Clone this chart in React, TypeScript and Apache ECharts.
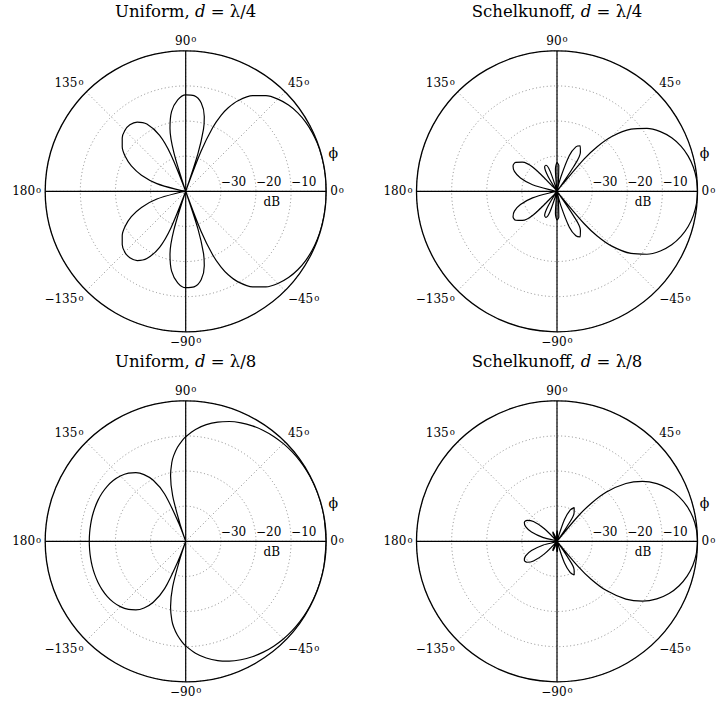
import React, { useEffect, useRef } from 'react';
import * as echarts from 'echarts';

// Gains in dB (upper half, 0..180 deg); the patterns are symmetric in phi -> -phi.
const uniformQuarterAngles = [0, 5, 10, 15, 20, 25, 30, 35, 40, 45, 50, 55, 60, 63, 65, 67, 69, 70.5, 72, 74, 76, 80, 85, 90, 95, 100, 104, 107, 109.5, 112, 115, 120, 125, 130, 135, 140, 145, 150, 155, 160, 165, 170, 175, 180];
const uniformQuarterDb = [0, 0, 0, -0.04, -0.11, -0.28, -0.57, -1.05, -1.79, -2.88, -4.47, -6.77, -10.23, -13.32, -16.17, -20.29, -27.82, -40, -28.66, -21.61, -18.12, -14.49, -12.67, -12.55, -13.86, -16.9, -21.5, -28.49, -40, -28.75, -22.42, -17.89, -15.93, -15.27, -15.49, -16.41, -17.94, -20.1, -22.92, -26.6, -31.5, -38.48, -40, -40];

const schelQuarterAngles = [0, 5, 10, 15, 20, 25, 30, 35, 40, 45, 48, 50, 52, 53.13, 56, 59, 63, 67, 71, 75, 78.46, 82, 86, 90, 94, 98, 101.54, 105, 109, 113, 117, 121, 124, 126.87, 130, 135, 140, 145, 150, 155, 160, 165, 170, 175, 180];
const schelQuarterDb = [0, -0.14, -0.58, -1.34, -2.45, -3.97, -6.02, -8.75, -12.48, -17.93, -22.9, -27.94, -37.62, -40, -31.49, -27.06, -25.45, -26.25, -29.2, -35.86, -40, -37.31, -32.67, -31.86, -33.63, -39.23, -40, -39.5, -33.85, -31.95, -32.25, -35.01, -40, -40, -38.75, -30.54, -27.09, -25.64, -25.55, -26.62, -28.93, -32.79, -39.04, -40, -40];

const uniformEighthAngles = [0, 10, 15, 20, 25, 30, 35, 40, 45, 50, 55, 60, 65, 70, 75, 80, 85, 90, 92, 95, 98, 100, 103, 106, 108, 109.47, 111, 114, 118, 122, 126, 130, 135, 140, 145, 150, 155, 160, 165, 170, 175, 180];
const uniformEighthDb = [0, 0, -0.01, -0.03, -0.07, -0.14, -0.26, -0.43, -0.68, -1.02, -1.47, -2.06, -2.79, -3.71, -4.85, -6.27, -8.02, -10.23, -11.29, -13.14, -15.38, -17.22, -20.83, -26.56, -34.25, -40, -34.27, -25.24, -20.33, -17.61, -15.86, -14.67, -13.69, -13.06, -12.7, -12.51, -12.43, -12.43, -12.46, -12.51, -12.54, -12.55];

const schelEighthAngles = [0, 5, 10, 15, 20, 25, 30, 35, 40, 45, 48, 50, 52, 53.13, 56, 59, 63, 67, 71, 75, 78.46, 84, 87, 90, 93, 96, 101.54, 110, 113.58, 118, 126.87, 135, 140, 145, 150, 155, 160, 165, 170, 175, 180];
const schelEighthDb = [0, -0.18, -0.72, -1.65, -2.99, -4.8, -7.18, -10.28, -14.4, -20.26, -25.49, -30.69, -40, -40, -34.74, -30.54, -29.23, -30.31, -33.53, -40, -40, -39.27, -37.29, -37.03, -38.15, -40, -40, -38.37, -37.03, -37.72, -40, -34.93, -31.26, -29.59, -29.27, -30.14, -32.28, -35.99, -40, -40, -40];

const angleTicks = [0, 45, 90, 135, 180, 225, 270, 315];
const angleTickLabels = ['0', '45', '90', '135', '180', '\u2212135', '\u221290', '\u221245'];
const radiusTickLabels: Record<number, string> = { [-30]: '\u221230', [-20]: '\u221220', [-10]: '\u221210' };

const panels = [
  { name: 'Uniform', frac: '\u03bb/4', angles: uniformQuarterAngles, db: uniformQuarterDb },
  { name: 'Schelkunoff', frac: '\u03bb/4', angles: schelQuarterAngles, db: schelQuarterDb },
  { name: 'Uniform', frac: '\u03bb/8', angles: uniformEighthAngles, db: uniformEighthDb },
  { name: 'Schelkunoff', frac: '\u03bb/8', angles: schelEighthAngles, db: schelEighthDb },
];

const FONT = 'DejaVu Serif';
const R = 140.5;
const CX = [185.7, 557];
const CY = [191.3, 541.3];

function closedCurve(angles: number[], db: number[]) {
  const upper = angles.map((a, i) => [db[i], a]);
  const lower: number[][] = [];
  for (let i = angles.length - 1; i >= 0; i--) lower.push([db[i], 360 - angles[i]]);
  return upper.concat(lower);
}

export default function App() {
  const ref = useRef<HTMLDivElement>(null);
  useEffect(() => {
    if (!ref.current) return;
    const chart = echarts.init(ref.current, undefined, { renderer: 'svg' });
    const dotted = { color: '#8a8a8a', type: [1, 2.6] as any, width: 1 };
    const polar: any[] = [];
    const angleAxis: any[] = [];
    const radiusAxis: any[] = [];
    const series: any[] = [];
    const graphic: any[] = [];
    panels.forEach((p, i) => {
      const cx = CX[i % 2];
      const cy = CY[Math.floor(i / 2)];
      polar.push({ center: [cx, cy], radius: R });
      angleAxis.push({
        polarIndex: i, type: 'value', min: 0, max: 360, interval: 45, startAngle: 0, clockwise: false, z: 1,
        axisLine: { lineStyle: { color: '#000', width: 1.3 } },
        axisTick: { show: false },
        splitLine: { show: true, lineStyle: dotted },
        axisLabel: {
          margin: 4, color: '#000',
          formatter: (v: number) => {
            const k = angleTicks.indexOf(v);
            if (k < 0) return '';
            return `{n|${angleTickLabels[k]}}{s|o}`;
          },
          rich: {
            n: { fontFamily: FONT, fontSize: 12, color: '#000' },
            s: { fontFamily: FONT, fontSize: 8.5, color: '#000', verticalAlign: 'top', padding: [0, 0, 0, 1] },
          },
        },
      });
      radiusAxis.push({
        polarIndex: i, type: 'value', min: -40, max: 0, interval: 10, z: 0,
        axisLine: { show: false }, axisTick: { show: false },
        splitLine: { show: true, lineStyle: dotted },
        axisLabel: {
          margin: 3, align: 'left', verticalAlign: 'bottom', color: '#000', fontFamily: FONT, fontSize: 12,
          formatter: (v: number) => radiusTickLabels[v] || '',
        },
      });
      const lineBase = { type: 'line', coordinateSystem: 'polar', polarIndex: i, symbol: 'none', silent: true, animation: false };
      series.push({ ...lineBase, data: [[0, 0], [0, 180]], lineStyle: { color: '#000', width: 1.2 }, z: 2 });
      series.push({ ...lineBase, data: [[0, 90], [0, 270]], lineStyle: { color: '#000', width: 1.2 }, z: 2 });
      series.push({ ...lineBase, smooth: 0.3, data: closedCurve(p.angles, p.db), lineStyle: { color: '#000', width: 1.2 }, z: 3 });
      graphic.push({
        type: 'text', x: cx, y: cy - 179.5, silent: true,
        style: {
          text: `{r|${p.name}, }{i|d}{r| = ${p.frac}}`, align: 'center', verticalAlign: 'middle',
          rich: {
            r: { fontFamily: FONT, fontSize: 16.5, fill: '#000' },
            i: { fontFamily: FONT, fontSize: 16.5, fontStyle: 'italic', fill: '#000' },
          },
        },
      });
      graphic.push({ type: 'text', x: cx + 147.6, y: cy - 38, silent: true, style: { text: '\u03d5', fontFamily: FONT, fontSize: 14, fill: '#000', align: 'center', verticalAlign: 'middle' } });
      graphic.push({ type: 'text', x: cx + 86, y: cy + 10.5, silent: true, style: { text: 'dB', fontFamily: FONT, fontSize: 12, fill: '#000', align: 'center', verticalAlign: 'middle' } });
    });
    chart.setOption({ animation: false, backgroundColor: '#fff', polar, angleAxis, radiusAxis, series, graphic });
    return () => chart.dispose();
  }, []);
  return <div ref={ref} style={{ position: 'absolute', left: 0, top: 0, width: 719, height: 703 }} />;
}
